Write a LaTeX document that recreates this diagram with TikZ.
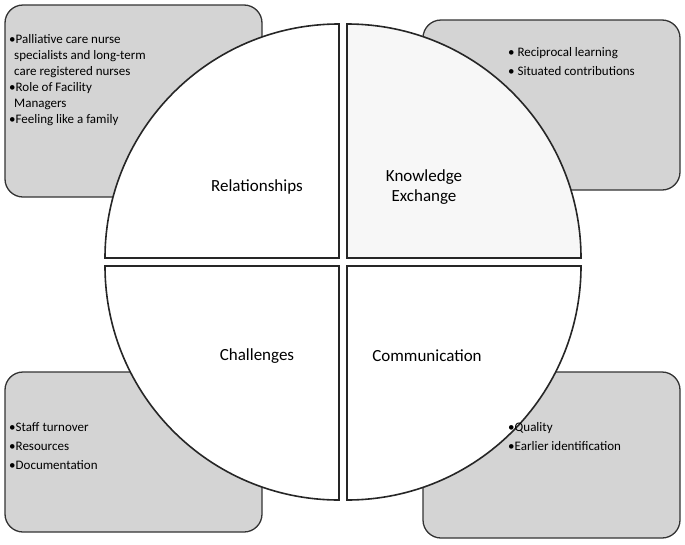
\documentclass[tikz,border=0pt]{standalone}
\usepackage{fontspec}
\setmainfont{Carlito}
\begin{document}
\begin{tikzpicture}[x=1pt,y=-1pt,
  box/.style={draw=black!80,line width=1.3pt,fill=black!17,rounded corners=18pt},
  quad/.style={draw=black!85,line width=1.6pt,fill=white},
  lab/.style={font=\fontsize{17}{20}\selectfont,align=center},
  blt/.style={font=\fontsize{13}{16}\selectfont,align=left,anchor=north west,inner sep=0pt},
  blw/.style={blt,font=\fontsize{13}{19}\selectfont}]
\useasboundingbox (0,0) rectangle (685,544);
\draw[box] (5,5) rectangle (262,197);
\draw[box] (423,20) rectangle (680,190);
\draw[box] (5,372) rectangle (262,532);
\draw[box] (423,372) rectangle (680,538);
\def\R{234}
\draw[quad] (339,258) -- ++(-\R,0) arc[start angle=180,end angle=270,radius=\R] -- cycle;
\draw[quad,fill=black!3] (347,258) -- ++(0,-\R) arc[start angle=-90,end angle=0,radius=\R] -- cycle;
\draw[quad] (339,266) -- ++(-\R,0) arc[start angle=180,end angle=90,radius=\R] -- cycle;
\draw[quad] (347,266) -- ++(\R,0) arc[start angle=0,end angle=90,radius=\R] -- cycle;
\node[lab] (rel) at (257,187) {Relationships};
\node[lab] (ke) at (424,187) {Knowledge\\Exchange};
\node[lab] (ch) at (257,356) {Challenges};
\node[lab] (co) at (427,356) {Communication};
\node[blt] (b1) at (9,34) {\textbullet Palliative care nurse\\\hspace*{5pt}specialists and long-term\\\hspace*{5pt}care registered nurses\\\textbullet Role of Facility\\\hspace*{5pt}Managers\\\textbullet Feeling like a family};
\node[blw] (b2) at (508,47) {\textbullet\ Reciprocal learning\\\textbullet\ Situated contributions};
\node[blw] (b3) at (9,422) {\textbullet Staff turnover\\\textbullet Resources\\\textbullet Documentation};
\node[blw] (b4) at (508,422) {\textbullet Quality\\\textbullet Earlier identification};
\end{tikzpicture}
\end{document}
